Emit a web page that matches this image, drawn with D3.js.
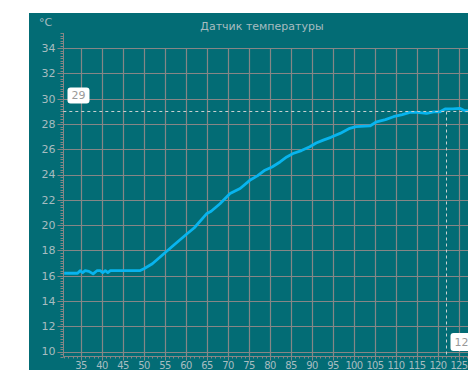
<!DOCTYPE html>
<html><head><meta charset="utf-8">
<script src="https://cdn.jsdelivr.net/npm/d3@7"></script>
<style>html,body{margin:0;padding:0;background:#fff;overflow:hidden}svg{display:block}</style>
</head><body>
<script>
const title = "Датчик температуры";
const unit = "°C";
const time = [31,33,34.2,34.8,35.4,36,36.9,37.9,38.8,39.6,40.2,40.8,41.4,42,45,49,50,52,54.6,57,60.2,62,64.9,66,68.1,70.5,72.9,75.2,77,78.8,80.5,82.4,84,85.5,87.5,89.5,91,92.7,94.5,96.7,99,100.5,103.8,105.4,107.5,109.4,111.5,113.3,115,117.3,119,120.5,121.7,123.5,125.2,126.4,128];
const temp = [16.2,16.2,16.2,16.4,16.25,16.4,16.35,16.15,16.4,16.4,16.25,16.4,16.25,16.4,16.4,16.4,16.55,16.95,17.7,18.4,19.3,19.8,20.9,21.1,21.7,22.5,22.9,23.55,23.9,24.35,24.6,25.0,25.4,25.67,25.9,26.2,26.5,26.73,26.95,27.26,27.66,27.8,27.85,28.18,28.35,28.58,28.75,28.92,28.92,28.85,28.97,28.97,29.19,29.2,29.24,29.05,29.05];
const yTicks = [10,12,14,16,18,20,22,24,26,28,30,32,34];
const xTicks = [35,40,45,50,55,60,65,70,75,80,85,90,95,100,105,110,115,120,125];
const cursorX = 122, cursorY = 29;

const W = 468, H = 370;
const bg = "#036c75", grid = "#868686", txt = "#a7bcc0", line = "#08b4ee";
const svg = d3.select("body").append("svg").attr("width", W).attr("height", H);
svg.append("rect").attr("x", 29).attr("y", 13).attr("width", W).attr("height", H).attr("fill", bg);

const x = d3.scaleLinear().domain([30.8, 127.2]).range([63.3, 468.2]);
const y = d3.scaleLinear().domain([9.6, 35.2]).range([356.7, 33]);
const font = "DejaVu Sans";

svg.append("text").attr("x", 262).attr("y", 30).attr("text-anchor", "middle")
  .attr("font-family", font).attr("font-size", 11).attr("fill", txt).text(title);
svg.append("text").attr("x", 39).attr("y", 26)
  .attr("font-family", font).attr("font-size", 11).attr("fill", txt).text(unit);

// grid
const g = svg.append("g");
g.selectAll(".hg").data(yTicks).join("line")
  .attr("x1", 63.3).attr("x2", W).attr("y1", d => Math.round(y(d)) + 0.5).attr("y2", d => Math.round(y(d)) + 0.5)
  .attr("stroke", grid).attr("stroke-width", 1.2);
g.selectAll(".vg").data(xTicks).join("line")
  .attr("y1", 48).attr("y2", 356.7).attr("x1", d => Math.round(x(d)) + 0.5).attr("x2", d => Math.round(x(d)) + 0.5)
  .attr("stroke", grid).attr("stroke-width", 1.2);

// y axis
const yAxis = svg.append("g").attr("transform", "translate(63.5,0)");
yAxis.append("line").attr("y1", 33).attr("y2", 356.7).attr("stroke", grid);
const yMinor = d3.range(9.6, 35.21, 0.2);
yAxis.selectAll(".ym").data(yMinor).join("line")
  .attr("x1", -3).attr("x2", 0).attr("y1", d => Math.round(y(d)) + 0.5).attr("y2", d => Math.round(y(d)) + 0.5)
  .attr("stroke", grid);
yAxis.selectAll(".yM").data(yTicks).join("line")
  .attr("x1", -6).attr("x2", 0).attr("y1", d => Math.round(y(d)) + 0.5).attr("y2", d => Math.round(y(d)) + 0.5)
  .attr("stroke", grid);
yAxis.selectAll("text").data(yTicks).join("text")
  .attr("x", -8).attr("y", d => y(d)).attr("dy", "0.35em").attr("text-anchor", "end")
  .attr("font-family", font).attr("font-size", 11).attr("fill", txt).text(d => d);

// x axis
const xAxis = svg.append("g").attr("transform", "translate(0,356.5)");
xAxis.append("line").attr("x1", 63.3).attr("x2", W).attr("stroke", grid);
const xMinor = d3.range(31, 128, 1);
xAxis.selectAll(".xm").data(xMinor).join("line")
  .attr("y1", 0).attr("y2", 2).attr("x1", d => Math.round(x(d)) + 0.5).attr("x2", d => Math.round(x(d)) + 0.5)
  .attr("stroke", grid);
xAxis.selectAll(".xM").data(xTicks).join("line")
  .attr("y1", 0).attr("y2", 4).attr("x1", d => Math.round(x(d)) + 0.5).attr("x2", d => Math.round(x(d)) + 0.5)
  .attr("stroke", grid);
xAxis.selectAll("text").data(xTicks).join("text")
  .attr("x", d => x(d)).attr("y", 12.5).attr("text-anchor", "middle")
  .attr("font-family", font).attr("font-size", 10).attr("letter-spacing", "-0.7")
  .attr("fill", txt).text(d => d);

// line
svg.append("clipPath").attr("id", "clip").append("rect").attr("x", 63.3).attr("y", 33).attr("width", W).attr("height", 323);
svg.append("path").datum(time.map((t, i) => [t, temp[i]]))
  .attr("clip-path", "url(#clip)")
  .attr("d", d3.line().x(d => x(d[0])).y(d => y(d[1])))
  .attr("fill", "none").attr("stroke", line).attr("stroke-width", 2.8).attr("stroke-linejoin", "round");

// crosshair
const cx = Math.round(x(cursorX)) + 0.5, cy = Math.round(y(cursorY)) + 0.5;
svg.append("line").attr("x1", 63.3).attr("x2", W).attr("y1", cy).attr("y2", cy)
  .attr("stroke", "#c8d0d0").attr("stroke-dasharray", "3,3");
svg.append("line").attr("x1", cx).attr("x2", cx).attr("y1", cy).attr("y2", 356.7)
  .attr("stroke", "#c8d0d0").attr("stroke-dasharray", "3,3");

// labels
svg.append("rect").attr("x", 67.5).attr("y", 87.5).attr("width", 22).attr("height", 16).attr("rx", 3)
  .attr("fill", "#fff");
svg.append("text").attr("x", 78.5).attr("y", 95.5).attr("dy", "0.35em").attr("text-anchor", "middle")
  .attr("font-family", font).attr("font-size", 11).attr("fill", "#999").text(cursorY);
svg.append("rect").attr("x", cx + 4).attr("y", 333).attr("width", 28).attr("height", 18).attr("rx", 3)
  .attr("fill", "#fff");
svg.append("text").attr("x", cx + 8).attr("y", 342).attr("dy", "0.35em")
  .attr("font-family", font).attr("font-size", 11).attr("fill", "#999").text(cursorX);
</script>
</body></html>
